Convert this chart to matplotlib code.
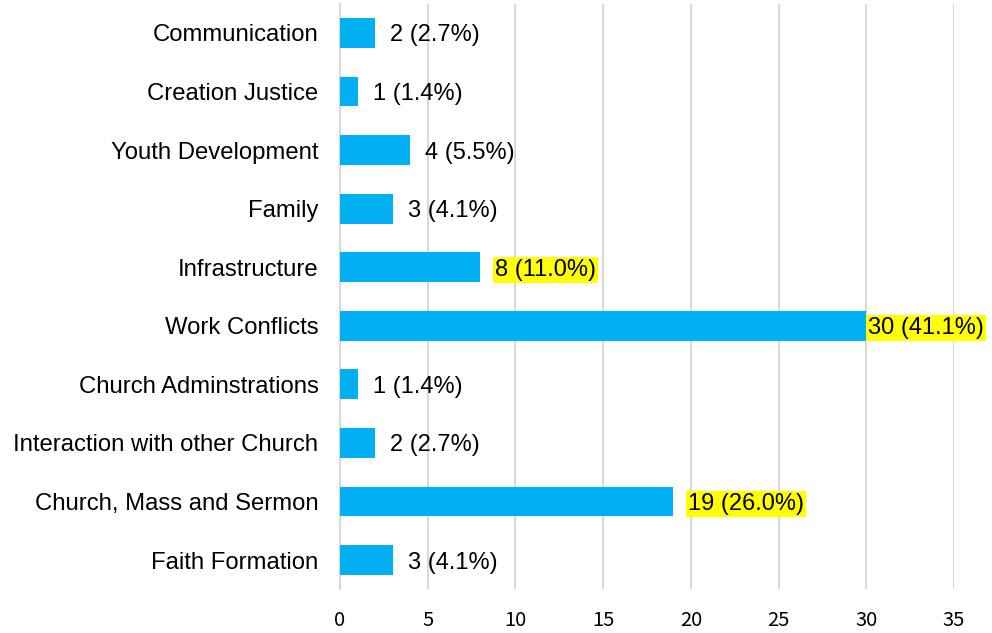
import matplotlib
matplotlib.use("Agg")
import matplotlib.pyplot as plt

categories = ["Communication", "Creation Justice", "Youth Development", "Family",
              "Infrastructure", "Work Conflicts", "Church Adminstrations",
              "Interaction with other Church", "Church, Mass and Sermon", "Faith Formation"]
counts = [2, 1, 4, 3, 8, 30, 1, 2, 19, 3]
percents = [2.7, 1.4, 5.5, 4.1, 11.0, 41.1, 1.4, 2.7, 26.0, 4.1]
highlighted = [False, False, False, False, True, True, False, False, True, False]
xticks = [0, 5, 10, 15, 20, 25, 30, 35]

fig = plt.figure(figsize=(9.92, 6.33), dpi=100)
ax = fig.add_axes([340/992, 1-589.3/633, 614/992, (589.3-3.7)/633])

ypos = list(range(len(categories)))
ax.barh(ypos, counts, height=0.51, color="#00B0F0", zorder=3)
ax.set_ylim(len(categories) - 0.5, -0.5)
ax.set_xlim(0, 35)
ax.set_xticks(xticks)
ax.set_yticks(ypos)
ax.set_yticklabels(categories, fontsize=17.2, family="Liberation Sans")
for lab in ax.get_yticklabels():
    lab.set_verticalalignment("center_baseline")
ax.tick_params(axis="y", length=0, pad=15.5)
ax.tick_params(axis="x", length=0, pad=15, labelsize=14.5)
for lab in ax.get_xticklabels():
    lab.set_family(["Noto Sans CJK SC", "DejaVu Sans"])
ax.grid(axis="x", color="#D9D9D9", linewidth=1.5, zorder=0)
for s in ["top", "right", "bottom"]:
    ax.spines[s].set_visible(False)
ax.spines["left"].set_color("#D9D9D9")
ax.spines["left"].set_linewidth(1.5)

maxc = max(counts)
for y, c, p, h in zip(ypos, counts, percents, highlighted):
    off = 2 if c == maxc else 15
    kw = dict(bbox=dict(boxstyle="square,pad=0.08", fc="#FFFF00", ec="none")) if h else {}
    ax.annotate(f"{c} ({p:.1f}%)", xy=(c, y), xytext=(off * 0.72, 0), textcoords="offset points",
                va="center_baseline", ha="left", fontsize=17, family="Liberation Sans",
                annotation_clip=False, zorder=4, **kw)

fig.savefig("out.png", dpi=100)
